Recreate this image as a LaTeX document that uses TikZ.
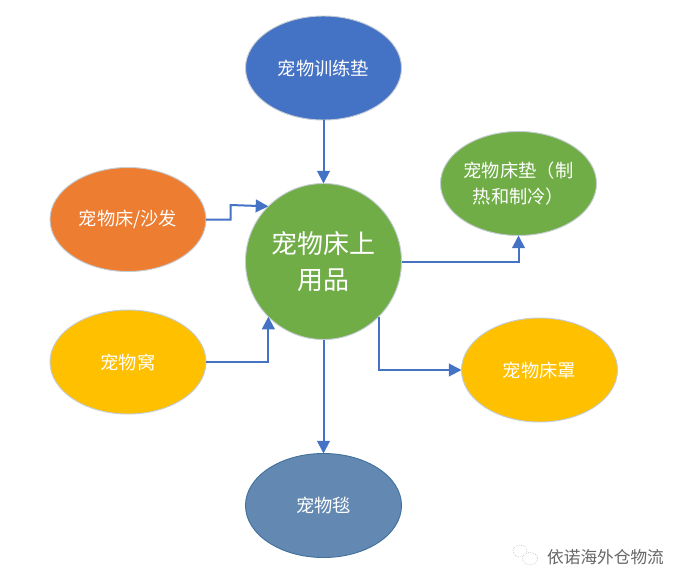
\documentclass[tikz,border=0pt]{standalone}
\usepackage{fontspec}
\setmainfont{Noto Sans CJK SC}
\usetikzlibrary{shapes.geometric,arrows.meta}
\definecolor{cblue}{HTML}{4472C4}
\definecolor{corange}{HTML}{ED7D31}
\definecolor{cyellow}{HTML}{FFC000}
\definecolor{cgreen}{HTML}{70AD47}
\definecolor{cslate}{HTML}{6389B2}
\definecolor{cedge}{HTML}{C4CCD4}
\definecolor{cdark}{HTML}{41719C}
\tikzset{
  oval/.style={ellipse,draw=cedge,line width=0.7pt,inner sep=0pt,outer sep=0pt,minimum width=117pt,minimum height=78pt,text=white,font=\fontsize{13.7pt}{18.5pt}\selectfont,align=center},
  hub/.style={oval,minimum width=117pt,minimum height=117pt,font=\fontsize{19.5pt}{27pt}\selectfont},
  link/.style={draw=cblue,line width=1.5pt,-{Triangle[length=9.5pt,width=9.5pt]}},
  chat/.style={draw=black!35,fill=white,line width=0.4pt,densely dotted}
}
\begin{document}
\begin{tikzpicture}[x=0.75pt,y=-0.75pt]
\useasboundingbox (0,0) rectangle (685,586);
\fill[white] (0,0) rectangle (685,586);
\node[hub,fill=cgreen] (hubn) at (323.5,261.5) {宠物床上\\用品};
\node[oval,fill=cblue] (train) at (323.5,68) {宠物训练垫};
\node[oval,fill=corange] (sofa) at (128,219.5) {宠物床/沙发};
\node[oval,fill=cyellow] (nest) at (128,362) {宠物窝};
\node[oval,fill=cgreen] (pad) at (518.5,183.5) {\raisebox{1.5pt}{宠物床垫（制}\\热和制冷）};
\node[oval,fill=cyellow] (cover) at (539.5,370) {宠物床罩};
\node[oval,fill=cslate,draw=cdark] (blanket) at (323.5,505.5) {宠物毯};
\draw[link] (train) -- (hubn);
\draw[link] (sofa.east) -- (230.5,219.5) -- (230.5,205) -- (hubn.135);
\draw[link] (nest.east) -| (hubn.225);
\draw[link] (hubn.east) -| (pad.south);
\draw[link] (hubn.-45) |- (cover.west);
\draw[link] (hubn.south) -- (blanket.north);
\path[chat] (520,551) ellipse (7 and 6);
\path[chat] (530,558.5) ellipse (7.5 and 6);
\node[text=black!60,font=\fontsize{12.5pt}{14pt}\selectfont,inner sep=0pt] (mark) at (605.5,557) {依诺海外仓物流};
\end{tikzpicture}
\end{document}
